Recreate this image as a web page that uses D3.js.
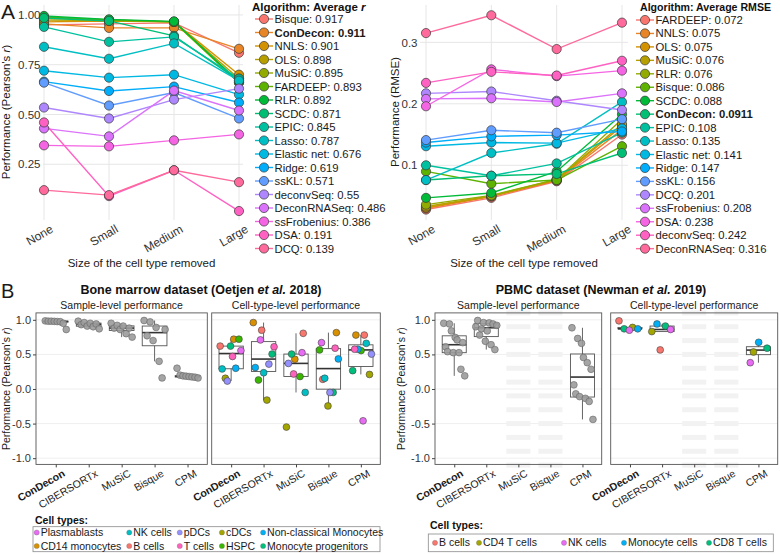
<!DOCTYPE html>
<html><head><meta charset="utf-8">
<script src="https://cdn.jsdelivr.net/npm/d3@7"></script>
<style>body{margin:0;background:#fff}</style>
</head><body>
<script>
// ================= DATA =================
const sizes = ["None","Small","Medium","Large"];

// Panel A, left: Pearson's r
const corrNames = ["Bisque","ConDecon","NNLS","OLS","MuSiC","FARDEEP","RLR","SCDC","EPIC","Lasso","Elastic net","Ridge","ssKL","deconvSeq","DeconRNASeq","ssFrobenius","DSA","DCQ"];
const corrAverages = ["0.917","0.911","0.901","0.898","0.895","0.893","0.892","0.871","0.845","0.787","0.676","0.619","0.571","0.55","0.486","0.386","0.191","0.139"];
const corrValues = [
  [0.950,0.955,0.960,0.810],
  [0.955,0.935,0.935,0.830],
  [0.965,0.970,0.965,0.700],
  [0.975,0.972,0.965,0.680],
  [0.985,0.975,0.965,0.660],
  [0.990,0.975,0.965,0.660],
  [0.995,0.978,0.968,0.665],
  [0.985,0.970,0.895,0.670],
  [0.940,0.865,0.890,0.680],
  [0.840,0.780,0.857,0.670],
  [0.720,0.685,0.700,0.600],
  [0.665,0.618,0.640,0.560],
  [0.660,0.545,0.610,0.480],
  [0.535,0.480,0.575,0.630],
  [0.430,0.390,0.620,0.520],
  [0.345,0.340,0.370,0.400],
  [0.460,0.090,0.220,0.015],
  [0.120,0.095,0.220,0.160]
];

// Panel A, right: RMSE
const rmseNames = ["FARDEEP","NNLS","OLS","MuSiC","RLR","Bisque","SCDC","ConDecon","EPIC","Lasso","Elastic net","Ridge","ssKL","DCQ","ssFrobenius","DSA","deconvSeq","DeconRNASeq"];
const rmseAverages = ["0.072","0.075","0.075","0.076","0.076","0.086","0.088","0.0911","0.108","0.135","0.141","0.147","0.156","0.201","0.208","0.238","0.242","0.316"];
const rmseValues = [
  [0.028,0.047,0.074,0.150],
  [0.030,0.049,0.075,0.158],
  [0.031,0.050,0.076,0.164],
  [0.033,0.050,0.077,0.167],
  [0.036,0.051,0.077,0.175],
  [0.090,0.070,0.076,0.131],
  [0.047,0.055,0.090,0.183],
  [0.076,0.083,0.086,0.120],
  [0.100,0.083,0.103,0.153],
  [0.076,0.120,0.135,0.203],
  [0.131,0.137,0.136,0.160],
  [0.137,0.147,0.149,0.155],
  [0.141,0.157,0.153,0.175],
  [0.217,0.220,0.205,0.190],
  [0.208,0.209,0.203,0.217],
  [0.196,0.256,0.245,0.254],
  [0.234,0.252,0.246,0.270],
  [0.315,0.344,0.289,0.332]
];

// Panel B
const methods = ["ConDecon","CIBERSORTx","MuSiC","Bisque","CPM"];
const bmSampleValues = [
  [0.985,0.98,0.98,0.978,0.975,0.972,0.95,0.86],
  [0.98,0.93,0.96,0.91,0.95,0.90,0.94,0.87],
  [0.95,0.88,0.92,0.86,0.91,0.80,0.88,0.75],
  [0.99,0.77,0.97,0.70,0.89,0.40,0.16,0.86],
  [0.30,0.20,0.19,0.185,0.18,0.175,0.17,0.16]
];
const bmCellTypes = ["B cells","CD14 monocytes","cDCs","HSPC","Monocyte progenitors","NK cells","Non-classical Monocytes","pDCs","Plasmablasts","T cells"];
const bmCellValues = [
  [0.62,0.72,0.155,0.72,0.62,0.29,0.30,0.115,0.555,0.47],
  [0.85,0.96,-0.16,0.13,0.505,0.235,0.31,0.36,0.71,0.61],
  [0.805,0.43,-0.55,0.18,0.505,-0.05,null,0.37,0.525,0.217],
  [0.14,0.815,-0.245,0.565,-0.05,0.155,0.435,-0.05,0.67,0.59],
  [0.78,0.78,0.21,0.555,0.265,0.66,0.575,0.505,-0.46,0.575]
];
const bmLegendOrder = ["Plasmablasts","CD14 monocytes","NK cells","B cells","pDCs","T cells","cDCs","HSPC","Non-classical Monocytes","Monocyte progenitors"];

const pbSampleValues = [
  [0.95,0.61,0.54,0.94,0.84,0.525,0.745,0.71,0.525,0.285,0.67,0.19],
  [0.90,0.99,0.78,0.87,0.96,0.69,0.84,0.955,0.64,0.94,0.57,0.92],
  [],
  [],
  [0.885,0.06,-0.07,0.73,-0.11,0.66,0.455,-0.135,0.38,-0.18,0.285,-0.44]
];
const pbCellTypes = ["B cells","CD4 T cells","CD8 T cells","Monocyte cells","NK cells"];
const pbCellValues = [
  [0.985,0.89,0.87,0.87,0.85],
  [0.565,0.83,0.91,0.94,0.86],
  [null,null,null,null,null],
  [null,null,null,null,null],
  [null,0.535,0.59,0.675,0.38]
];
const pbLegendOrder = ["B cells","CD4 T cells","NK cells","Monocyte cells","CD8 T cells"];
const pbEmptyMethods = ["MuSiC","Bisque"];

// ================= HELPERS =================
const FONT = '"Liberation Sans", Arial, Helvetica, sans-serif';
function luvColor(L, C, H){
  const hr = H*Math.PI/180, u = C*Math.cos(hr), v = C*Math.sin(hr);
  const Xn=0.95047, Yn=1, Zn=1.08883;
  const den = Xn+15*Yn+3*Zn, un = 4*Xn/den, vn = 9*Yn/den;
  const Y = Yn*Math.pow((L+16)/116,3);
  const up = u/(13*L)+un, vp = v/(13*L)+vn;
  const X = Y*9*up/(4*vp), Z = Y*(12-3*up-20*vp)/(4*vp);
  const r = 3.2404542*X-1.5371385*Y-0.4985314*Z;
  const g = -0.9692660*X+1.8760108*Y+0.0415560*Z;
  const b = 0.0556434*X-0.2040259*Y+1.0572252*Z;
  const gm = c => { c=Math.max(0,Math.min(1,c)); return c<=0.0031308?12.92*c:1.055*Math.pow(c,1/2.4)-0.055; };
  return d3.rgb(gm(r)*255, gm(g)*255, gm(b)*255).formatHex();
}
function huePal(n){ return d3.range(n).map(i => luvColor(65,100,15+i*360/n)); }

const svg = d3.select("body").append("svg").attr("width",780).attr("height",554)
  .style("font-family",FONT);
svg.append("rect").attr("width",780).attr("height",554).attr("fill","#fff");

// ================= PANEL A =================
svg.append("text").attr("x",1).attr("y",19).attr("font-size",21).attr("fill","#1a1a1a").text("A");

function drawLineChart(cfg){
  const g = svg.append("g");
  const x = d3.scalePoint().domain(sizes).range(cfg.xr);
  const y = d3.scaleLinear().domain(cfg.yd).range([220,5]);
  const colors = huePal(cfg.names.length);
  g.selectAll(null).data(cfg.ticks).join("line")
    .attr("x1",cfg.px[0]).attr("x2",cfg.px[1]).attr("y1",d=>y(d)).attr("y2",d=>y(d))
    .attr("stroke","#e6e6e6").attr("stroke-width",1);
  g.selectAll(null).data(sizes).join("line")
    .attr("x1",d=>x(d)).attr("x2",d=>x(d)).attr("y1",5).attr("y2",220)
    .attr("stroke","#e6e6e6").attr("stroke-width",1);
  const ya = g.append("g").attr("transform",`translate(${cfg.px[0]},0)`)
    .call(d3.axisLeft(y).tickValues(cfg.ticks).tickSize(0).tickPadding(2.5).tickFormat(d3.format(cfg.fmt)));
  ya.select(".domain").remove();
  ya.selectAll("text").attr("font-size",11.5).attr("fill","#333").style("font-family",FONT);
  const xa = g.append("g").attr("transform",`translate(0,222)`)
    .call(d3.axisBottom(x).tickSize(0).tickPadding(0));
  xa.select(".domain").remove();
  xa.selectAll("text").attr("font-size",12).attr("fill","#333").style("font-family",FONT)
    .attr("text-anchor","end").attr("dy","0.75em").attr("y",2)
    .attr("transform","translate(4,0) rotate(-30)");
  g.append("text").attr("x",(cfg.xr[0]+cfg.xr[1])/2).attr("y",267).attr("text-anchor","middle")
    .attr("font-size",11.5).attr("fill","#1a1a1a").text("Size of the cell type removed");
  const yt = g.append("text").attr("transform",`translate(${cfg.ytx},${112}) rotate(-90)`)
    .attr("text-anchor","middle").attr("font-size",11.5).attr("fill","#1a1a1a");
  cfg.ytitle(yt);
  const line = d3.line().x((d,i)=>x(sizes[i])).y(d=>y(d));
  g.selectAll(null).data(cfg.values).join("path")
    .attr("d",d=>line(d)).attr("fill","none")
    .attr("stroke",(d,i)=>colors[i]).attr("stroke-width",1.4);
  cfg.values.forEach((vals,k)=>{
    g.selectAll(null).data(vals).join("circle")
      .attr("cx",(d,i)=>x(sizes[i])).attr("cy",d=>y(d)).attr("r",4.6)
      .attr("fill",colors[k]).attr("stroke","#3a3a3a").attr("stroke-width",0.7);
  });
  const L = cfg.legend;
  const tt = g.append("text").attr("x",L.tx).attr("y",11).attr("font-size",L.tsize)
    .attr("font-weight","bold").attr("fill","#111");
  L.title(tt);
  cfg.names.forEach((n,i)=>{
    const cy = L.y0 + i*L.dy;
    g.append("line").attr("x1",L.cx-9).attr("x2",L.cx+9).attr("y1",cy).attr("y2",cy)
      .attr("stroke",colors[i]).attr("stroke-width",1.4);
    g.append("circle").attr("cx",L.cx).attr("cy",cy).attr("r",4.6)
      .attr("fill",colors[i]).attr("stroke","#3a3a3a").attr("stroke-width",0.7);
    g.append("text").attr("x",L.cx+10.5).attr("y",cy+4).attr("font-size",11.3)
      .attr("fill","#1a1a1a").attr("font-weight",n==="ConDecon"?"bold":"normal")
      .text(n+": "+cfg.avgs[i]);
  });
}

drawLineChart({
  names:corrNames, avgs:corrAverages, values:corrValues,
  xr:[44,239], px:[43,243], yd:[-0.03,1.05], ticks:[0.25,0.5,0.75,1.0], fmt:".2f", ytx:10,
  ytitle:t=>{t.append("tspan").text("Performance (Pearson's ");t.append("tspan").attr("font-style","italic").text("r");t.append("tspan").text(")");},
  legend:{cx:264, y0:19, dy:13.5, tx:252, tsize:11.5, title:t=>{t.append("tspan").text("Algorithm: Average ");t.append("tspan").attr("font-style","italic").text("r");}}
});
drawLineChart({
  names:rmseNames, avgs:rmseAverages, values:rmseValues,
  xr:[426,622], px:[420,628], yd:[0.011,0.3607], ticks:[0.1,0.2,0.3], fmt:".1f", ytx:399,
  ytitle:t=>{t.text("Performance (RMSE)");},
  legend:{cx:645, y0:20, dy:13.45, tx:640, tsize:10.6, title:t=>{t.text("Algorithm: Average RMSE");}}
});

// ================= PANEL B =================
svg.append("text").attr("x",1).attr("y",298).attr("font-size",20).attr("fill","#1a1a1a").text("B");

const yB = d3.scaleLinear().domain([-1.09,1.1]).range([464.4,312.9]);
const yTicksB = [-1,-0.5,0,0.5,1];

function boxStats(vals){
  const s = vals.filter(v=>v!=null).sort(d3.ascending);
  const q1=d3.quantileSorted(s,0.25), med=d3.quantileSorted(s,0.5), q3=d3.quantileSorted(s,0.75);
  const iqr=q3-q1, lo=q1-1.5*iqr, hi=q3+1.5*iqr;
  return {q1,med,q3,wlo:d3.min(s.filter(v=>v>=lo)),whi:d3.max(s.filter(v=>v<=hi))};
}

function drawBoxPanel(cfg){
  const g = svg.append("g");
  const x = d3.scalePoint().domain(methods).range([cfg.x0,cfg.x1]).padding(0.6);
  const step = x.step(), bw = step*0.75;
  g.selectAll(null).data(yTicksB).join("line")
    .attr("x1",cfg.x0).attr("x2",cfg.x1).attr("y1",d=>yB(d)).attr("y2",d=>yB(d))
    .attr("stroke","#efefef").attr("stroke-width",1);
  if(cfg.empty){
    const stripeVals = d3.range(12).map(i=>1.1-0.2*i);
    cfg.empty.forEach(m=>{
      g.selectAll(null).data(stripeVals).join("rect")
        .attr("x",x(m)-bw/2).attr("width",bw).attr("y",d=>yB(d)-2.5).attr("height",5)
        .attr("fill","#f2f2f2");
    });
  }
  methods.forEach((m,mi)=>{
    const vals = cfg.values[mi].filter(v=>v!=null);
    if(vals.length<2) return;
    const s = boxStats(vals), cx = x(m);
    g.append("line").attr("x1",cx).attr("x2",cx).attr("y1",yB(s.q3)).attr("y2",yB(s.whi)).attr("stroke","#555").attr("stroke-width",0.9);
    g.append("line").attr("x1",cx).attr("x2",cx).attr("y1",yB(s.q1)).attr("y2",yB(s.wlo)).attr("stroke","#555").attr("stroke-width",0.9);
    g.append("rect").attr("x",cx-bw/2).attr("width",bw).attr("y",yB(s.q3)).attr("height",Math.max(0.5,yB(s.q1)-yB(s.q3)))
      .attr("fill","none").attr("stroke","#555").attr("stroke-width",0.9);
    g.append("line").attr("x1",cx-bw/2).attr("x2",cx+bw/2).attr("y1",yB(s.med)).attr("y2",yB(s.med)).attr("stroke","#333").attr("stroke-width",1.6);
  });
  methods.forEach((m,mi)=>{
    const vals = cfg.values[mi];
    const n = vals.length;
    vals.forEach((v,k)=>{
      if(v==null) return;
      let off;
      if(cfg.colors){ off = (((k*0.6180339+mi*0.4142)%1)-0.5)*22; }
      else { off = n>1 ? (k/(n-1)-0.5)*21 : 0; }
      g.append("circle").attr("cx",x(m)+off).attr("cy",yB(v)).attr("r",3.4)
        .attr("fill",cfg.colors?cfg.colors[k]:"#9b9b9b")
        .attr("fill-opacity",cfg.colors?1:0.9)
        .attr("stroke",cfg.colors?"#444":"#666").attr("stroke-width",0.6);
    });
  });
  g.append("rect").attr("x",cfg.x0).attr("y",312.9).attr("width",cfg.x1-cfg.x0).attr("height",464.4-312.9)
    .attr("fill","none").attr("stroke","#555").attr("stroke-width",0.9);
  const xa = g.append("g").attr("transform","translate(0,464.4)").call(d3.axisBottom(x).tickSize(3).tickPadding(0));
  xa.select(".domain").remove();
  xa.selectAll("line").attr("stroke","#444");
  xa.selectAll("text").attr("font-size",10.5).attr("fill","#1a1a1a").style("font-family",FONT)
    .attr("text-anchor","end").attr("dy","0.75em").attr("y",5)
    .attr("transform","translate(3,0) rotate(-30)")
    .attr("font-weight",d=>d==="ConDecon"?"bold":"normal");
  if(cfg.yaxis){
    const ya = g.append("g").attr("transform",`translate(${cfg.x0},0)`)
      .call(d3.axisLeft(yB).tickValues(yTicksB).tickSize(3).tickPadding(2).tickFormat(d=>d.toFixed(1)));
    ya.select(".domain").remove();
    ya.selectAll("line").attr("stroke","#444");
    ya.selectAll("text").attr("font-size",11).attr("fill","#333").style("font-family",FONT);
    const yt = g.append("text").attr("transform",`translate(${cfg.ytx},388.6) rotate(-90)`)
      .attr("text-anchor","middle").attr("font-size",10.5).attr("fill","#1a1a1a");
    yt.append("tspan").text("Performance (Pearson's ");
    yt.append("tspan").attr("font-style","italic").text("r");
    yt.append("tspan").text(")");
  }
  g.append("text").attr("x",(cfg.x0+cfg.x1)/2).attr("y",308.5).attr("text-anchor","middle")
    .attr("font-size",10.5).attr("fill","#1a1a1a").text(cfg.sub);
}

const bmPal = huePal(bmCellTypes.length);
const pbPal = huePal(pbCellTypes.length);

drawBoxPanel({x0:36,x1:207.3,values:bmSampleValues,yaxis:true,ytx:10,sub:"Sample-level performance"});
drawBoxPanel({x0:211.7,x1:380.3,values:bmCellValues,colors:bmPal,sub:"Cell-type-level performance"});
drawBoxPanel({x0:435,x1:601.7,values:pbSampleValues,yaxis:true,ytx:405,sub:"Sample-level performance",empty:pbEmptyMethods});
drawBoxPanel({x0:610.7,x1:777.7,values:pbCellValues,colors:pbPal,sub:"Cell-type-level performance",empty:pbEmptyMethods});

function datasetTitle(cx, a, b, c){
  const t = svg.append("text").attr("x",cx).attr("y",294).attr("text-anchor","middle")
    .attr("font-size",12.5).attr("font-weight","bold").attr("fill","#111");
  t.append("tspan").text(a);
  t.append("tspan").attr("font-style","italic").text(b);
  t.append("tspan").text(c);
}
datasetTitle(201,"Bone marrow dataset (Oetjen ","et al.", " 2018)");
datasetTitle(601,"PBMC dataset (Newman ","et al.", " 2019)");

function cellLegend(cfg){
  const g = svg.append("g");
  g.append("text").attr("x",cfg.tx).attr("y",cfg.ty).attr("font-size",10.5).attr("font-weight","bold")
    .attr("fill","#111").text("Cell types:");
  g.append("rect").attr("x",cfg.bx[0]).attr("y",cfg.by[0]).attr("width",cfg.bx[1]-cfg.bx[0]).attr("height",cfg.by[1]-cfg.by[0])
    .attr("fill","none").attr("stroke","#8a8a8a").attr("stroke-width",0.8);
  let xPos = cfg.x0;
  const cols = Math.ceil(cfg.order.length/cfg.rows);
  for(let c=0;c<cols;c++){
    let maxW = 0;
    if(cfg.colX) xPos = cfg.colX[c];
    for(let r=0;r<cfg.rows;r++){
      const name = cfg.order[c*cfg.rows+r];
      if(name===undefined) continue;
      const cy = cfg.rowY[r];
      const col = cfg.pal[cfg.levels.indexOf(name)];
      g.append("circle").attr("cx",xPos).attr("cy",cy).attr("r",2.6).attr("fill",col)
        .attr("stroke","#666").attr("stroke-width",0.3);
      const t = g.append("text").attr("x",xPos+4).attr("y",cy+3.6).attr("font-size",10.5)
        .attr("fill","#1a1a1a").text(name);
      maxW = Math.max(maxW, t.node().getComputedTextLength());
    }
    xPos += 4 + maxW + cfg.gap;
  }
}
cellLegend({tx:35,ty:524,bx:[33,380],by:[526.7,551.7],order:bmLegendOrder,levels:bmCellTypes,pal:bmPal,rows:2,rowY:[532.5,546],x0:36.7,gap:8});
cellLegend({tx:430,ty:529,bx:[428.3,773.3],by:[534,551.7],order:pbLegendOrder,levels:pbCellTypes,pal:pbPal,rows:1,rowY:[542.8],x0:435,gap:16,colX:[435,479,564,624,709]});
</script>
</body></html>
